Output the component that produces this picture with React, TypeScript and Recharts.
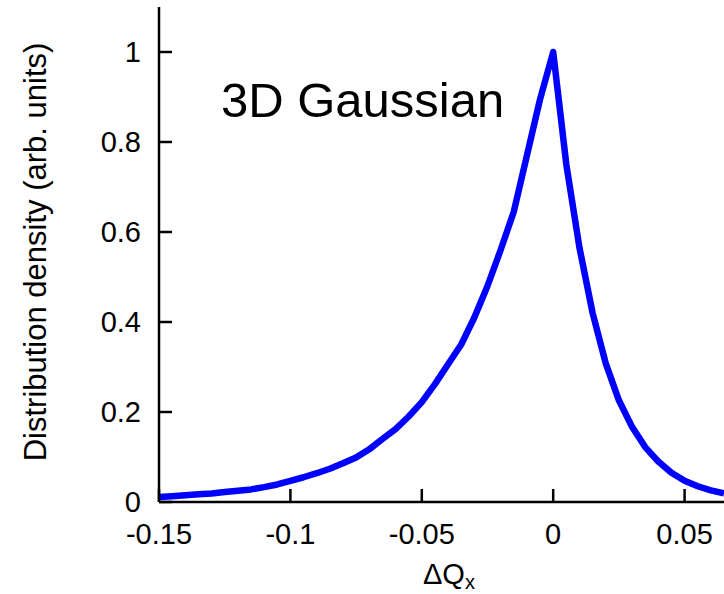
import { LineChart, Line, XAxis, YAxis } from "recharts";

// ΔQx sample positions and the density
const dq = [
  -0.15, -0.145, -0.14, -0.135, -0.13, -0.125, -0.12, -0.115, -0.11, -0.105,
  -0.1, -0.095, -0.09, -0.085, -0.08, -0.075, -0.07, -0.065, -0.06, -0.055,
  -0.05, -0.045, -0.04, -0.035, -0.03, -0.025, -0.02, -0.015, -0.01, -0.005,
  0, 0.005, 0.01, 0.015, 0.02, 0.025, 0.03, 0.035, 0.04, 0.045, 0.05, 0.055,
  0.06, 0.065,
];
const density = [
  0.011, 0.013, 0.015, 0.017, 0.019, 0.022, 0.025, 0.028, 0.033, 0.039,
  0.047, 0.055, 0.064, 0.074, 0.086, 0.099, 0.117, 0.14, 0.162, 0.19,
  0.222, 0.262, 0.306, 0.35, 0.41, 0.48, 0.56, 0.645, 0.77, 0.895,
  1.0, 0.75, 0.565, 0.42, 0.308, 0.226, 0.167, 0.122, 0.09, 0.065, 0.047, 0.035,
  0.026, 0.019,
];

const xTicks = [-0.15, -0.1, -0.05, 0, 0.05];
const yTicks = [0, 0.2, 0.4, 0.6, 0.8, 1];

const title = "3D Gaussian";
const yTitle = "Distribution density (arb. units)";

const data = dq.map((x, i) => ({ dq: x, d: density[i] }));

const font = "'Liberation Sans', Arial, sans-serif";
const TICK = 13;
const TICK_W = 2.5;

// gnuplot style: tick marks point into the plot
const BottomTick = (p: any) => (
  <g>
    <line x1={p.x} x2={p.x} y1={p.y - 21} y2={p.y - 21 - TICK} stroke="#000" strokeWidth={TICK_W} />
    <text x={p.x} y={p.y} dy="0.71em" textAnchor="middle" fontSize={29} fontFamily={font} fill="#000">
      {p.payload.value}
    </text>
  </g>
);

const TopTick = (p: any) => (
  <line x1={p.x} x2={p.x} y1={p.y} y2={p.y + TICK} stroke="#000" strokeWidth={TICK_W} />
);

const LeftTick = (p: any) => (
  <g>
    <line x1={p.x + 18} x2={p.x + 18 + TICK} y1={p.y} y2={p.y} stroke="#000" strokeWidth={TICK_W} />
    <text x={p.x} y={p.y} dy="0.355em" textAnchor="end" fontSize={29} fontFamily={font} fill="#000">
      {p.payload.value}
    </text>
  </g>
);

export default function App() {
  return (
    <div style={{ position: "absolute", left: 0, top: 0, width: 724, height: 594, overflow: "hidden", background: "#fff" }}>
      <LineChart width={724} height={594} data={data} margin={{ top: 7, right: 0, bottom: 0, left: 0 }}>
        <XAxis
          dataKey="dq"
          type="number"
          domain={[-0.15, 0.065]}
          ticks={xTicks}
          interval={0}
          height={92}
          axisLine={{ stroke: "#000", strokeWidth: 2.5 }}
          tickLine={false}
          tickSize={0}
          tickMargin={21}
          tick={<BottomTick />}
        />
        <XAxis
          xAxisId="top"
          orientation="top"
          dataKey="dq"
          type="number"
          domain={[-0.15, 0.065]}
          ticks={xTicks}
          interval={0}
          height={0}
          axisLine={{ stroke: "#000", strokeWidth: 2.5 }}
          tickLine={false}
          tickSize={0}
          tickMargin={0}
          tick={<TopTick />}
        />
        <YAxis
          type="number"
          domain={[0, 1.1]}
          ticks={yTicks}
          interval={0}
          width={159}
          axisLine={{ stroke: "#000", strokeWidth: 2.5 }}
          tickLine={false}
          tickSize={0}
          tickMargin={18}
          tick={<LeftTick />}
        />
        <Line
          type="linear"
          dataKey="d"
          stroke="#0000ff"
          strokeWidth={6.5}
          strokeLinejoin="round"
          dot={false}
          isAnimationActive={false}
        />
      </LineChart>
      <svg
        width={724}
        height={594}
        style={{ position: "absolute", left: 0, top: 0, pointerEvents: "none" }}
        fontFamily={font}
      >
        <text x={221} y={117} fontSize={49} fill="#000">
          {title}
        </text>
        <text
          x={0}
          y={0}
          fontSize={31}
          fill="#000"
          textAnchor="middle"
          transform="translate(46 252) rotate(-90)"
        >
          {yTitle}
        </text>
        <text x={423} y={584} fontSize={29} fill="#000">
          ΔQ
          <tspan fontSize={20} dy={5}>x</tspan>
        </text>
      </svg>
    </div>
  );
}
